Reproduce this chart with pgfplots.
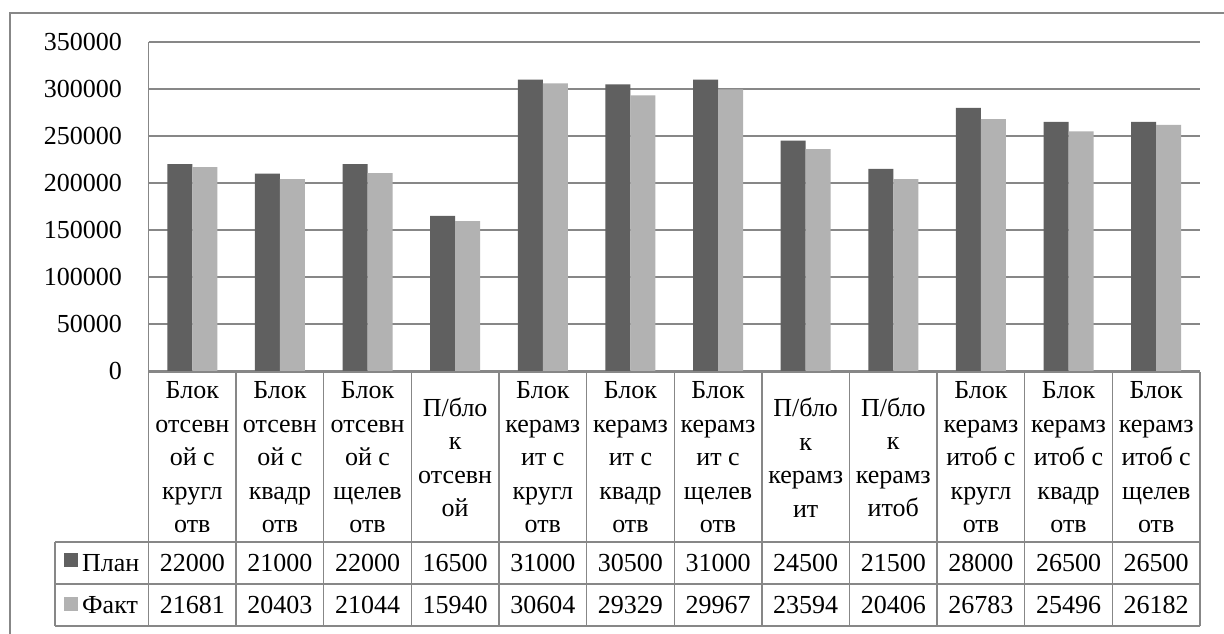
\documentclass[border=0pt]{standalone}
\usepackage{fontspec}
\setmainfont{Liberation Serif}
\usepackage{pgfplots}
\usepackage{pgfplotstable}
\pgfplotsset{compat=1.18}

\definecolor{planc}{HTML}{606060}
\definecolor{faktc}{HTML}{B2B2B2}
\definecolor{linec}{HTML}{878787}

\newcommand\cf{\fontsize{26}{33.5}\selectfont}

% План / Факт по видам блоков (values as printed in the data table)
\pgfplotstableread{
plan  fakt
22000 21681
21000 20403
22000 21044
16500 15940
31000 30604
30500 29329
31000 29967
24500 23594
21500 20406
28000 26783
26500 25496
26500 26182
}\sales

\begin{document}
\begin{tikzpicture}[x=1pt,y=1pt]
\useasboundingbox (0,0) rectangle (1224,633);
\fill[white] (0,0) rectangle (1224,633);

\begin{axis}[
  at={(148.5pt,262pt)}, anchor=south west,
  scale only axis, width=1051.5pt, height=329pt,
  xmin=-0.5, xmax=11.5, ymin=0, ymax=350000,
  ybar, bar width=25pt,
  axis line style={draw=none},
  major tick length=0pt,
  ytick={0,50000,...,350000},
  scaled y ticks=false,
  ymajorgrids, grid style={linec, line width=1.3pt},
  /pgf/number format/.cd, fixed, 1000 sep={}, assume math mode=true,
  /pgfplots/.cd,
  yticklabel style={font=\cf, anchor=east, inner sep=0pt, xshift=-26.5pt},
  xtick={0,...,11},
  xticklabels={
    {Блок\\отсевн\\ой с\\кругл\\отв},
    {Блок\\отсевн\\ой с\\квадр\\отв},
    {Блок\\отсевн\\ой с\\щелев\\отв},
    {П/бло\\к\\отсевн\\ой},
    {Блок\\керамз\\ит с\\кругл\\отв},
    {Блок\\керамз\\ит с\\квадр\\отв},
    {Блок\\керамз\\ит с\\щелев\\отв},
    {П/бло\\к\\керамз\\ит},
    {П/бло\\к\\керамз\\итоб},
    {Блок\\керамз\\итоб с\\кругл\\отв},
    {Блок\\керамз\\итоб с\\квадр\\отв},
    {Блок\\керамз\\итоб с\\щелев\\отв}},
  xticklabel style={font=\cf, align=center, anchor=center, inner sep=0pt, yshift=-86.5pt},
  clip=false,
]
\addplot[fill=planc, draw=none, bar shift=-12.5pt]
  table[x expr=\coordindex, y expr=10*\thisrow{plan}] {\sales};
\addplot[fill=faktc, draw=none, bar shift=12.5pt]
  table[x expr=\coordindex, y expr=10*\thisrow{fakt}] {\sales};
\end{axis}

% chart frame
\draw[linec, line width=1.4pt] (10,-5) -- (10,620) -- (1230,620);

% value axis line
\draw[linec, line width=1.3pt] (148.5,261) -- (148.5,591);

% data table grid
\begin{scope}[linec, line width=1.3pt]
  \draw (148.5,261) -- (1200,261);
  \draw (55,91) -- (1200,91);
  \draw (55,49) -- (1200,49);
  \draw (55,7) -- (1200,7);
  \draw (55,91) -- (55,7);
  \foreach \i in {0,...,12} {
    \pgfmathsetmacro\bx{148.5+\i*87.625}
    \draw (\bx,261) -- (\bx,7);
  }
\end{scope}

% legend keys
\fill[planc] (64,66) rectangle (78,80);
\node[font=\cf, anchor=west, inner sep=0pt] at (82,70) {План};
\fill[faktc] (64,22) rectangle (78,36);
\node[font=\cf, anchor=west, inner sep=0pt] at (82,28) {Факт};

% table values
\foreach \i in {0,...,11} {
  \pgfmathsetmacro\cx{148.5+(\i+0.5)*87.625}
  \pgfplotstablegetelem{\i}{plan}\of\sales
  \node[font=\cf, inner sep=0pt] at (\cx,70) {\pgfplotsretval};
  \pgfplotstablegetelem{\i}{fakt}\of\sales
  \node[font=\cf, inner sep=0pt] at (\cx,28) {\pgfplotsretval};
}
\end{tikzpicture}
\end{document}
